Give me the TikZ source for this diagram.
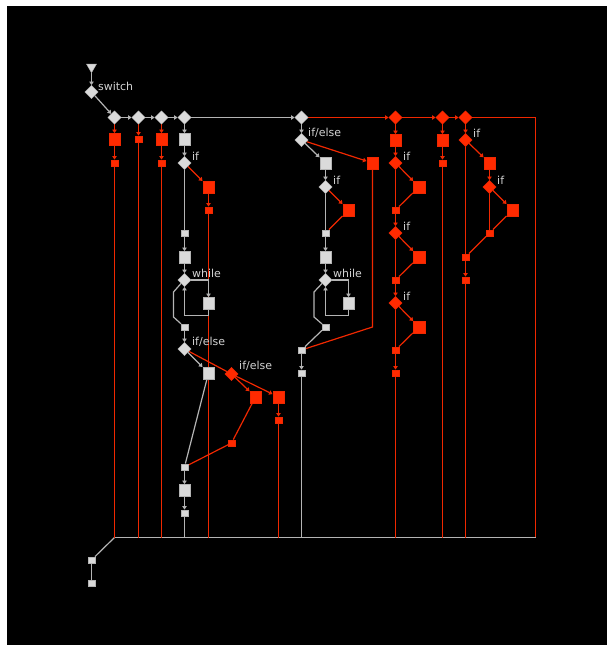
\documentclass[tikz,border=0pt]{standalone}
\usepackage{fontspec}
\newfontfamily\labfont{DejaVu Sans}
\usetikzlibrary{shapes.geometric,arrows.meta}
\definecolor{gfill}{HTML}{DADADA}
\definecolor{gline}{HTML}{B4B4B4}
\definecolor{rfill}{HTML}{FF2A00}
\definecolor{rline}{HTML}{F02800}
\definecolor{labc}{HTML}{D2D2D2}
\pgfdeclarelayer{bg}
\pgfdeclarelayer{edges}
\pgfsetlayers{bg,edges,main}
\tikzset{
  gd/.style={diamond, fill=gfill, draw=gline, line width=0.4bp, minimum width=13.5bp, minimum height=13.5bp, inner sep=0pt},
  rd/.style={diamond, fill=rfill, draw=rline, line width=0.4bp, minimum width=13.5bp, minimum height=13.5bp, inner sep=0pt},
  gB/.style={rectangle, fill=gfill, draw=gline, line width=0.4bp, minimum size=11.5bp, inner sep=0pt},
  gS/.style={rectangle, fill=gfill, draw=gline, line width=0.4bp, minimum size=6.5bp, inner sep=0pt},
  rB/.style={rectangle, fill=rfill, draw=rline, line width=0.4bp, minimum size=11.5bp, inner sep=0pt},
  rS/.style={rectangle, fill=rfill, draw=rline, line width=0.4bp, minimum size=6.5bp, inner sep=0pt},
  gl/.style={draw=gline, line width=1.2bp},
  rl/.style={draw=rline, line width=1.2bp},
  ar/.style={-{Triangle[width=4.5bp,length=3.5bp]}},
  lab/.style={font=\labfont\fontsize{11}{12}\selectfont, text=labc, anchor=west, inner sep=0pt},
  starttri/.style={regular polygon, regular polygon sides=3, shape border rotate=180, fill=gfill, draw=gline, line width=0.4bp, minimum size=11.5bp, inner sep=0pt}
}
\begin{document}
\begin{tikzpicture}[x=1bp,y=-1bp]
\begin{pgfonlayer}{bg}
\fill[white] (0,0) rectangle (607,645);
\fill[black] (7,6) rectangle (607,645);
\end{pgfonlayer}
\useasboundingbox (0,0) rectangle (607,645);

% start
\node[starttri] (start) at (91.5,67) {};
\node[gd] (sw) at (91.5,92) {};
\node[lab] (lsw) at (98,86) {switch};

% top row
\node[gd] (d1) at (114.5,117.5) {};
\node[gd] (d2) at (138.5,117.5) {};
\node[gd] (d3) at (161.5,117.5) {};
\node[gd] (d4) at (184.5,117.5) {};
\node[gd] (d5) at (301.5,117.5) {};
\node[rd] (d6) at (395.5,117.5) {};
\node[rd] (d7) at (442.5,117.5) {};
\node[rd] (d8) at (465.5,117.5) {};
\coordinate (tr) at (535.5,117.5);
\coordinate (bl) at (114.5,537.5);
\coordinate (br) at (535.5,537.5);

% col 1-3
\node[rB] (c1a) at (114.5,139) {};
\node[rS] (c1b) at (114.5,163) {};
\node[rS] (c2a) at (138.5,139) {};
\node[rB] (c3a) at (161.5,139) {};
\node[rS] (c3b) at (161.5,163) {};

% col 4
\node[gB] (c4a) at (184.5,139) {};
\node[gd] (c4if) at (184.5,163) {};
\node[lab] (l4if) at (192,156) {if};
\node[rB] (c4r1) at (208.5,187) {};
\node[rS] (c4r2) at (208.5,210) {};
\node[gS] (c4s1) at (184.5,233) {};
\node[gB] (c4b) at (184.5,257) {};
\node[gd] (c4wh) at (184.5,280) {};
\node[lab] (l4wh) at (192,273) {while};
\node[gB] (c4body) at (208.5,303) {};
\node[gS] (c4s2) at (184.5,327) {};
\node[gd] (c4ie) at (184.5,349) {};
\node[lab] (l4ie) at (192,342) {if/else};
\node[gB] (c4t) at (208.5,373) {};
\node[rd] (c4rd) at (231.5,374) {};
\node[lab] (l4rd) at (239,366) {if/else};
\node[rB] (c4e1) at (255.5,397) {};
\node[rB] (c4e2) at (278.5,397) {};
\node[rS] (c4e3) at (231.5,443) {};
\node[rS] (c4e4) at (278.5,420) {};
\node[gS] (c4s3) at (184.5,467) {};
\node[gB] (c4b2) at (184.5,490) {};
\node[gS] (c4s4) at (184.5,513) {};

% col 5
\node[gd] (c5ie) at (301.5,140) {};
\node[lab] (l5ie) at (308,133) {if/else};
\node[gB] (c5a) at (325.5,163) {};
\node[rB] (c5r) at (372.5,163) {};
\node[gd] (c5if) at (325.5,187) {};
\node[lab] (l5if) at (333,180) {if};
\node[rB] (c5r2) at (348.5,210) {};
\node[gS] (c5s1) at (325.5,233) {};
\node[gB] (c5b) at (325.5,257) {};
\node[gd] (c5wh) at (325.5,280) {};
\node[lab] (l5wh) at (333,273) {while};
\node[gB] (c5body) at (348.5,303) {};
\node[gS] (c5s2) at (325.5,327) {};
\node[gS] (c5s3) at (301.5,350) {};
\node[gS] (c5s4) at (301.5,373) {};
\coordinate (c5k) at (372.5,327);

% col 6
\node[rB] (c6a) at (395.5,140) {};
\node[rd] (c6if1) at (395.5,163) {};
\node[lab] (l6if1) at (403,156) {if};
\node[rB] (c6r1) at (419,187) {};
\node[rS] (c6s1) at (395.5,210) {};
\node[rd] (c6if2) at (395.5,233) {};
\node[lab] (l6if2) at (403,226) {if};
\node[rB] (c6r2) at (419,257) {};
\node[rS] (c6s2) at (395.5,280) {};
\node[rd] (c6if3) at (395.5,303) {};
\node[lab] (l6if3) at (403,296) {if};
\node[rB] (c6r3) at (419,327) {};
\node[rS] (c6s3) at (395.5,350) {};
\node[rS] (c6s4) at (395.5,373) {};

% col 7
\node[rB] (c7a) at (442.5,140) {};
\node[rS] (c7b) at (442.5,163) {};

% col 8
\node[rd] (c8if1) at (465.5,140) {};
\node[lab] (l8if1) at (473,133) {if};
\node[rB] (c8r1) at (489.5,163) {};
\node[rd] (c8if2) at (489.5,187) {};
\node[lab] (l8if2) at (497,180) {if};
\node[rB] (c8r2) at (512.5,210) {};
\node[rS] (c8s1) at (489.5,233) {};
\node[rS] (c8s2) at (465.5,257) {};
\node[rS] (c8s3) at (465.5,280) {};

% end
\node[gS] (e1) at (91.5,560) {};
\node[gS] (e2) at (91.5,583) {};

\begin{pgfonlayer}{edges}
% start + top row
\draw[gl,ar] (start) -- (sw);
\draw[gl,ar] (sw) -- (d1);
\draw[gl,ar] (d1) -- (d2);
\draw[gl,ar] (d2) -- (d3);
\draw[gl,ar] (d3) -- (d4);
\draw[gl,ar] (d4) -- (d5);
\draw[rl,ar] (d5) -- (d6);
\draw[rl,ar] (d6) -- (d7);
\draw[rl,ar] (d7) -- (d8);
\draw[rl] (d8) -- (tr) -- (br);
% bottom
\draw[gl] (bl) -- (br);
\draw[gl] (bl) -- (e1);
\draw[gl] (e1) -- (e2);
% col 1-3
\draw[rl,ar] (d1) -- (c1a);
\draw[rl,ar] (c1a) -- (c1b);
\draw[rl] (c1b) -- (c1b |- bl);
\draw[rl,ar] (d2) -- (c2a);
\draw[rl] (c2a) -- (c2a |- bl);
\draw[rl,ar] (d3) -- (c3a);
\draw[rl,ar] (c3a) -- (c3b);
\draw[rl] (c3b) -- (c3b |- bl);
% col 4
\draw[gl,ar] (d4) -- (c4a);
\draw[gl,ar] (c4a) -- (c4if);
\draw[rl,ar] (c4if) -- (c4r1);
\draw[rl,ar] (c4r1) -- (c4r2);
\draw[rl] (c4r2) -- (c4r2 |- bl);
\draw[gl] (c4if) -- (c4s1);
\draw[gl,ar] (c4s1) -- (c4b);
\draw[gl,ar] (c4b) -- (c4wh);
\draw[gl,ar] (c4wh.east) -| (c4body.north);
\draw[gl,ar] (c4body.south) -- ++(0,6.5) -| (c4wh.south);
\draw[gl] (c4wh.south west) -- (173.5,292) -- (173.5,317) -- (c4s2);
\draw[gl,ar] (c4s2) -- (c4ie);
\draw[gl,ar] (c4ie) -- (c4t);
\draw[rl] (c4ie) -- (c4rd);
\draw[rl,ar] (c4rd) -- (c4e1);
\draw[rl,ar] (c4rd) -- (c4e2);
\draw[rl] (c4e1) -- (c4e3);
\draw[rl] (c4e3) -- (c4s3);
\draw[gl] (c4t) -- (c4s3);
\draw[rl,ar] (c4e2) -- (c4e4);
\draw[rl] (c4e4) -- (c4e4 |- bl);
\draw[gl,ar] (c4s3) -- (c4b2);
\draw[gl,ar] (c4b2) -- (c4s4);
\draw[gl] (c4s4) -- (c4s4 |- bl);
% col 5
\draw[gl,ar] (d5) -- (c5ie);
\draw[gl,ar] (c5ie) -- (c5a);
\draw[rl,ar] (c5ie) -- (c5r);
\draw[gl,ar] (c5a) -- (c5if);
\draw[rl,ar] (c5if) -- (c5r2);
\draw[rl] (c5r2) -- (c5s1);
\draw[gl] (c5if) -- (c5s1);
\draw[gl,ar] (c5s1) -- (c5b);
\draw[gl,ar] (c5b) -- (c5wh);
\draw[gl,ar] (c5wh.east) -| (c5body.north);
\draw[gl,ar] (c5body.south) -- ++(0,6.5) -| (c5wh.south);
\draw[gl] (c5wh.south west) -- (314,292) -- (314,317) -- (c5s2);
\draw[gl] (c5s2) -- (c5s3);
\draw[rl] (c5r) -- (c5k) -- (c5s3);
\draw[gl,ar] (c5s3) -- (c5s4);
\draw[gl] (c5s4) -- (c5s4 |- bl);
% col 6
\draw[rl,ar] (d6) -- (c6a);
\draw[rl,ar] (c6a) -- (c6if1);
\draw[rl,ar] (c6if1) -- (c6r1);
\draw[rl] (c6r1) -- (c6s1);
\draw[rl] (c6if1) -- (c6s1);
\draw[rl,ar] (c6s1) -- (c6if2);
\draw[rl,ar] (c6if2) -- (c6r2);
\draw[rl] (c6r2) -- (c6s2);
\draw[rl] (c6if2) -- (c6s2);
\draw[rl,ar] (c6s2) -- (c6if3);
\draw[rl,ar] (c6if3) -- (c6r3);
\draw[rl] (c6r3) -- (c6s3);
\draw[rl] (c6if3) -- (c6s3);
\draw[rl,ar] (c6s3) -- (c6s4);
\draw[rl] (c6s4) -- (c6s4 |- bl);
% col 7
\draw[rl,ar] (d7) -- (c7a);
\draw[rl,ar] (c7a) -- (c7b);
\draw[rl] (c7b) -- (c7b |- bl);
% col 8
\draw[rl,ar] (d8) -- (c8if1);
\draw[rl,ar] (c8if1) -- (c8r1);
\draw[rl,ar] (c8r1) -- (c8if2);
\draw[rl,ar] (c8if2) -- (c8r2);
\draw[rl] (c8r2) -- (c8s1);
\draw[rl] (c8if2) -- (c8s1);
\draw[rl] (c8s1) -- (c8s2);
\draw[rl] (c8if1) -- (c8s2);
\draw[rl,ar] (c8s2) -- (c8s3);
\draw[rl] (c8s3) -- (c8s3 |- bl);
\end{pgfonlayer}
\end{tikzpicture}
\end{document}
